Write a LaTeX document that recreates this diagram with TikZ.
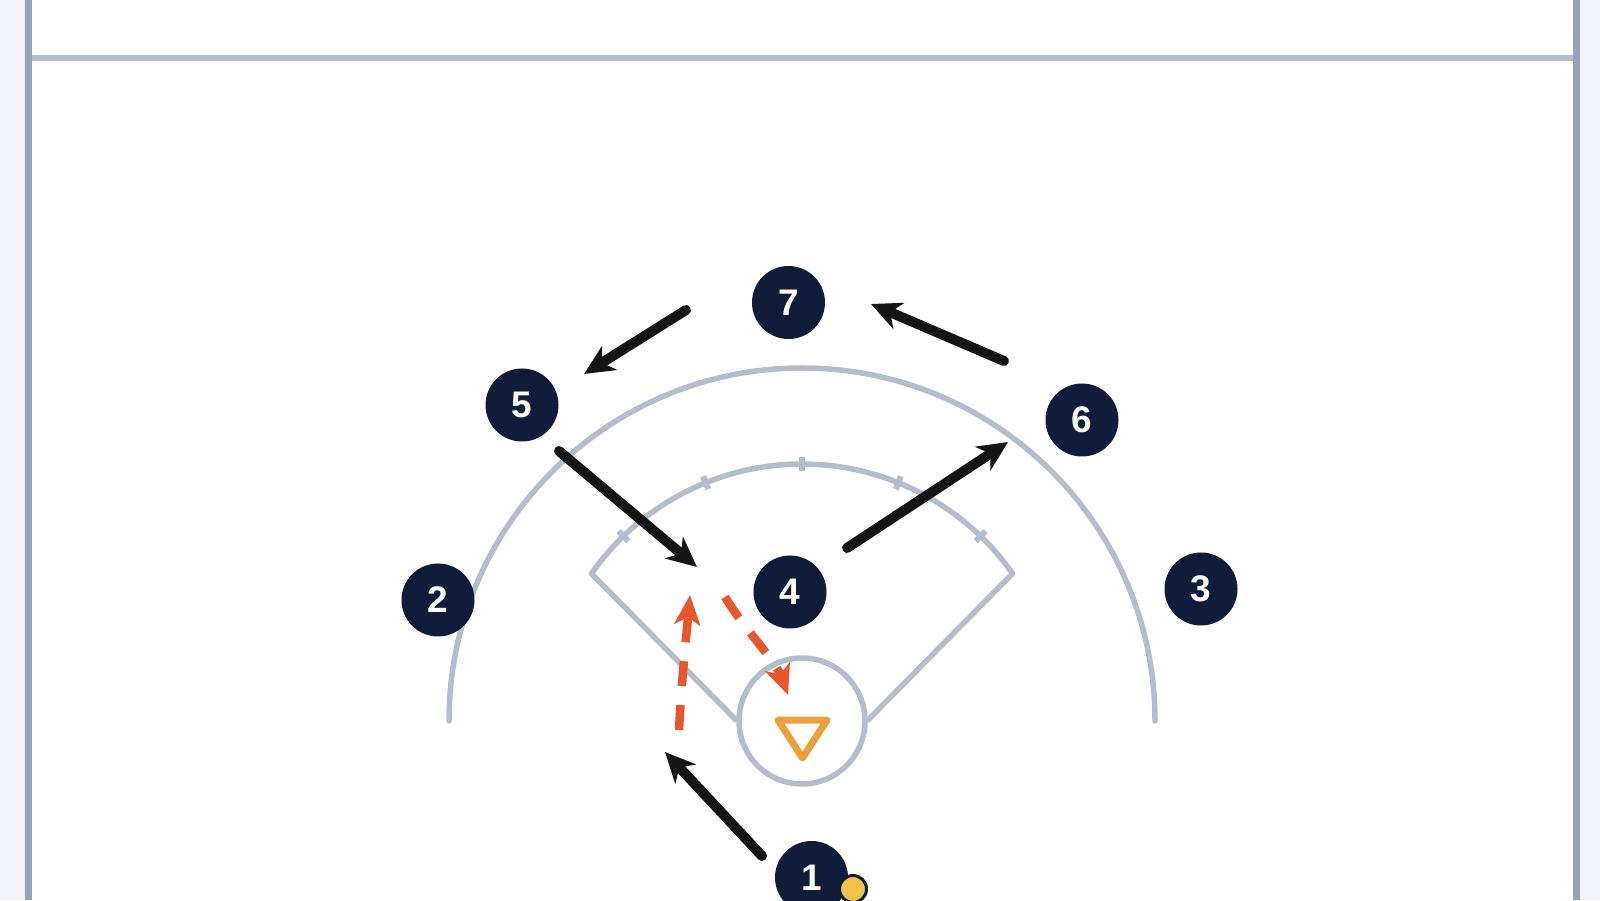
\documentclass[tikz,border=0pt]{standalone}
\usepackage{fontspec}
\setmainfont{Liberation Sans}
\usetikzlibrary{arrows.meta,calc}
\definecolor{navy}{HTML}{0F1D3A}
\definecolor{courtc}{HTML}{B3BDCE}
\definecolor{borderc}{HTML}{97A3BB}
\definecolor{stripc}{HTML}{F2F3FB}
\definecolor{passc}{HTML}{E9562B}
\definecolor{goalie}{HTML}{E9A23B}
\definecolor{ballc}{HTML}{F0C24A}
\definecolor{runc}{HTML}{151515}
\begin{document}
\begin{tikzpicture}[x=1pt,y=1pt,
  player/.style={circle,fill=navy,minimum size=73pt,inner sep=0pt,text=white,
    font=\fontsize{37}{37}\selectfont\bfseries},
  run/.style={runc,line width=10pt,line cap=round,
    -{Stealth[length=30pt,width=28pt,inset=9pt]}},
  pass/.style={passc,line width=8.5pt,dash pattern=on 25pt off 19pt,
    -{Stealth[length=30pt,width=26pt,inset=8pt]}},
  court/.style={courtc,line width=5.5pt},
  tick/.style={courtc,line width=6pt}]
\useasboundingbox (0,0) rectangle (1600,900);
% side strips and borders
\fill[stripc] (0,0) rectangle (25,900);
\fill[stripc] (1580,0) rectangle (1600,900);
\draw[courtc,line width=6pt] (28,842) -- (1577,842);
\draw[borderc,line width=7pt] (28.5,0) -- (28.5,900);
\draw[borderc,line width=7pt] (1576.5,0) -- (1576.5,900);
% goal centre
\coordinate (gc) at (802,179);
% big arc
\draw[court,line cap=round] (449,179) arc[start angle=180,end angle=0,radius=353];
% fan
\draw[court,line join=round] (737,179) -- ($(gc)+(145:257)$) arc[start angle=145,end angle=35,radius=257] -- (867,179);
\foreach \a in {46,68,90,112,134}
  \draw[tick] ($(gc)+(\a:250)$) -- ($(gc)+(\a:264)$);
% goal circle
\node[draw=courtc,line width=5.5pt,circle,minimum size=126pt,inner sep=0pt,fill=white] (goal) at (gc) {};
% goalie triangle
\draw[goalie,line width=7pt,line join=round] (778,180) -- (827,180) -- (802.5,142) -- cycle;
% players
\node[player] (p7) at (788.5,597.5) {7};
\node[player] (p5) at (522,495) {5};
\node[player] (p6) at (1082,480) {6};
\node[player] (p2) at (438,300) {2};
\node[player] (p4) at (790,308) {4};
\node[player] (p3) at (1201,311) {3};
\node[player] (p1) at (811.5,22.5) {1};
\node[circle,fill=ballc,draw=navy,line width=3pt,minimum size=27pt,inner sep=0pt] (ball) at (853,11) {};
% run endpoints
\coordinate (r1s) at (686,590); \coordinate (r1e) at (584,526);
\coordinate (r2s) at (1004,539); \coordinate (r2e) at (871,596);
\coordinate (r3s) at (559,449); \coordinate (r3e) at (697,333);
\coordinate (r4s) at (847,352); \coordinate (r4e) at (1008,458);
\coordinate (r5s) at (762,44); \coordinate (r5e) at (665,148);
\draw[run] (r1s) -- (r1e);
\draw[run] (r2s) -- (r2e);
\draw[run] (r3s) -- (r3e);
\draw[run] (r4s) -- (r4e);
\draw[run] (r5s) -- (r5e);
% passes
\coordinate (a1s) at (679,170); \coordinate (a1e) at (690,305);
\coordinate (a2s) at (725,303); \coordinate (a2e) at (788,205);
\draw[pass] (a1s) .. controls (682,225) and (686,260) .. (a1e);
\draw[pass] (a2s) .. controls (745,270) and (775,240) .. (a2e);
\end{tikzpicture}
\end{document}
